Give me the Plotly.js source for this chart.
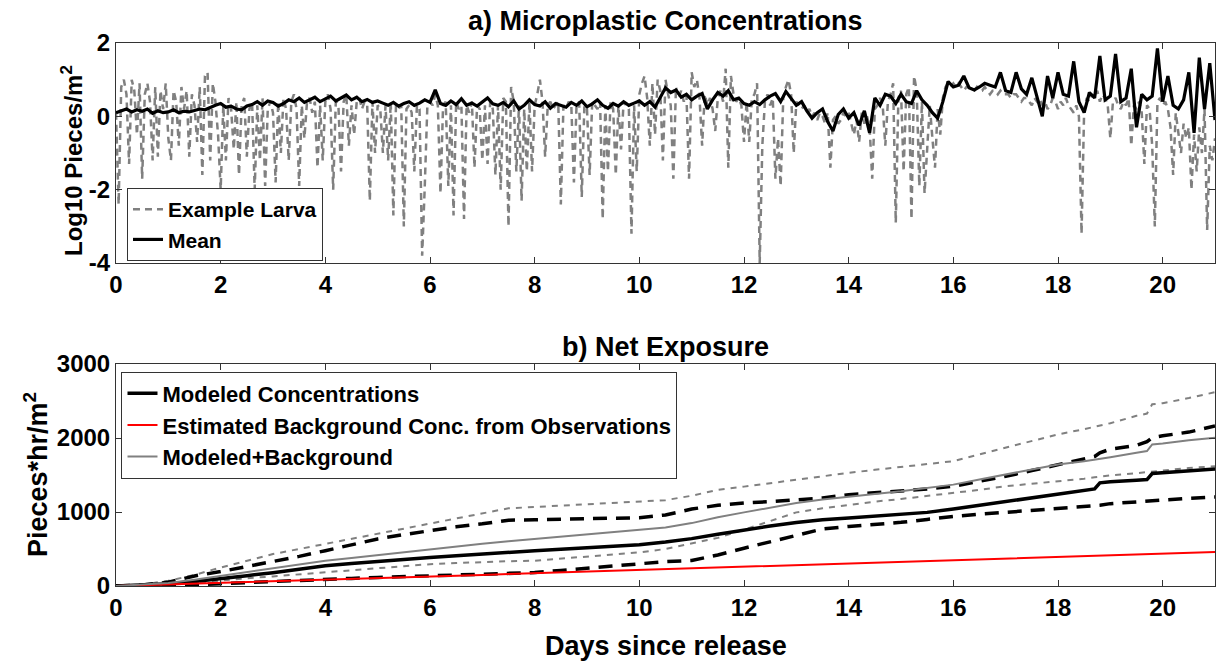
<!DOCTYPE html>
<html>
<head>
<meta charset="utf-8">
<script src="https://cdn.plot.ly/plotly-3.0.1.min.js"></script>
<style>html,body{margin:0;padding:0;background:#fff;}#chart{width:1217px;height:661px;}</style>
</head>
<body>
<div id="chart"></div>
<script>
// ---------- Panel a) : log10 concentration ----------
const larvaStartDay = 0, larvaStepDay = 0.05;
const larvaLog10 = [
 0.1,-2.4,0.8,1.0,0.6,-1.3,1.0,0.7,-0.5,0.9,-1.7,0.6,0.9,0.4,-1.2,0.8,-1.1,0.7,0.2,0.9,-0.6,
 -1.2,0.7,0.4,-0.8,0.8,0.2,0.7,-1.1,0.6,0.3,-0.7,0.8,-1.6,1.1,1.2,-1.2,0.9,0.4,-0.5,-2.0,
 0.3,-1.2,0.5,0.2,-0.9,0.4,-1.6,0.3,0.5,-1.1,0.2,0.4,-2.0,0.3,-1.2,0.5,-1.9,0.2,0.4,0.1,
 -1.8,0.4,-1.0,0.5,0.2,-1.2,0.4,0.6,0.2,-1.9,0.3,-0.6,0.4,0.5,0.1,0.4,-1.4,0.3,-1.2,0.4,
 0.6,0.2,-2.0,0.4,0.3,-1.5,0.4,0.6,-0.8,0.3,-0.5,0.4,0.5,0.2,0.4,0.3,-2.3,0.4,-1.0,0.3,
 0.2,-1.0,0.3,-1.2,0.4,-2.7,0.3,0.2,0.3,-3.0,0.2,0.3,0.1,-1.5,0.3,0.2,-3.8,-1.9,0.3,0.4,
 0.3,0.6,0.3,-2.1,0.3,0.4,-1.9,0.3,-2.7,0.4,0.2,0.3,-2.8,0.3,0.1,0.4,-1.4,0.3,0.2,-1.2,
 0.3,-1.3,0.4,0.2,-1.6,0.3,-2.0,0.5,0.4,-3.0,0.8,0.4,-1.5,0.3,-2.3,0.2,-1.5,0.4,-1.5,0.3,
 0.6,1.0,0.4,-1.1,0.3,0.4,0.2,0.3,0.4,-2.4,0.3,0.2,0.4,0.3,-1.8,0.3,0.4,-2.2,0.3,0.2,
 -1.6,0.4,0.3,0.2,0.4,-2.8,0.3,-1.5,0.4,0.2,-1.6,0.3,-0.9,0.4,0.3,0.2,-3.2,0.3,-1.5,0.6,
 0.9,1.1,0.5,-0.8,0.9,-0.5,1.0,0.7,-1.2,1.0,0.6,0.3,-1.7,0.8,0.5,0.7,0.4,0.6,-1.7,1.2,
 0.8,1.0,0.5,-0.8,0.6,0.3,0.5,0.2,-0.4,0.5,0.7,0.4,1.3,-1.4,1.1,0.6,0.4,0.5,0.3,-0.7,
 0.4,-0.7,0.5,0.6,0.9,-4.0,-0.8,0.4,0.6,0.3,0.5,-1.7,-0.6,-1.9,0.5,0.8,1.0,0.6,-1.0,0.4,
 0.3,0.2,0.3,0.1,0.2,0.0,0.1,-0.1,0.1,0.0,-0.2,0.1,-1.4,-0.1,0.0,-0.2,-0.1,0.1,0.0,0.1,
 -0.2,-0.5,-0.1,-0.7,0.1,-0.2,0.0,-0.3,-1.7,0.2,0.3,0.5,0.3,-0.8,0.4,0.6,0.9,-2.9,0.5,0.7,
 -1.5,0.6,0.8,-2.8,1.1,0.7,-1.9,0.4,-2.1,-0.8,0.3,-0.6,-1.4,0.2,-0.5,0.5,0.8,0.9,0.8,0.9,
 0.8,0.9,0.8,0.7,0.8,0.8,0.7,0.7,0.8,0.7,0.7,0.8,0.7,0.6,0.7,0.7,0.6,0.7,0.6,0.6,
 0.6,0.5,0.6,0.6,0.5,0.4,0.5,0.5,0.4,0.3,0.5,0.4,0.5,0.3,0.4,0.2,0.3,0.5,0.4,0.2,
 0.4,0.3,0.5,0.3,0.2,0.1,0.3,0.0,-3.2,0.2,0.5,0.4,0.6,0.5,0.7,0.4,0.6,0.5,0.3,-0.6,
 0.4,0.5,0.3,0.2,0.4,0.3,0.5,-0.8,0.3,0.2,0.4,0.1,-1.3,0.3,0.2,-0.8,-3.0,0.4,0.5,0.3,
 0.4,0.2,-0.3,-1.6,0.1,-0.5,-1.0,-0.2,-0.6,-0.3,-2.0,-0.5,-1.5,-0.3,-1.0,0.2,-3.1,-0.8,-1.2,-0.6
];
const meanStartDay = 0, meanStepDay = 0.1;
const meanLog10 = [
 0.10,0.15,0.20,0.12,0.18,0.14,0.20,0.08,0.15,0.10,
 0.12,0.18,0.10,0.14,0.12,0.16,0.20,0.18,0.25,0.30,
 0.35,0.25,0.28,0.20,0.18,0.28,0.32,0.40,0.30,0.42,
 0.38,0.28,0.35,0.45,0.40,0.50,0.38,0.45,0.52,0.40,
 0.48,0.55,0.42,0.50,0.58,0.45,0.52,0.40,0.46,0.38,
 0.42,0.36,0.30,0.38,0.28,0.35,0.40,0.30,0.36,0.45,
 0.38,0.72,0.35,0.30,0.42,0.32,0.48,0.30,0.36,0.28,
 0.40,0.50,0.34,0.30,0.38,0.26,0.42,0.20,0.30,0.45,
 0.32,0.28,0.40,0.22,0.35,0.30,0.25,0.38,0.30,0.42,
 0.26,0.34,0.45,0.30,0.22,0.35,0.28,0.40,0.30,0.36,
 0.42,0.30,0.40,0.25,0.50,0.78,0.65,0.72,0.52,0.60,
 0.45,0.55,0.62,0.20,0.45,0.65,0.55,0.70,0.45,0.50,
 0.35,0.30,0.40,0.32,0.45,0.55,0.62,0.40,0.68,0.50,
 0.30,0.40,0.15,-0.05,0.10,0.20,-0.15,-0.40,0.05,0.20,
 -0.05,0.10,-0.25,0.15,-0.45,0.50,0.30,0.60,0.55,0.35,
 0.60,0.40,0.35,0.70,0.45,0.30,0.10,-0.05,0.40,0.95,
 0.80,0.85,1.10,0.78,0.72,0.80,0.90,0.85,0.80,1.20,
 0.70,0.65,1.20,0.75,0.60,1.05,0.55,0.00,1.10,0.50,
 1.20,0.60,0.55,1.50,0.40,0.10,0.65,0.50,1.65,0.45,
 0.55,1.70,0.40,0.50,1.30,-0.30,0.60,0.45,0.55,1.85,
 0.40,1.10,0.30,0.20,0.45,1.20,-0.45,1.60,0.20,1.45,
 -0.10
];

// ---------- Panel b) : net exposure ----------
const exposureDays = [0,0.5,1,1.5,2,2.5,3,3.5,4,4.5,5,5.5,6,6.5,7,7.5,8,8.5,9,9.5,10,10.5,11,11.5,12,12.5,13,13.5,14,14.5,15,15.5,16,16.5,17,17.5,18,18.5,18.7,18.8,19,19.5,19.7,19.8,20,20.5,21];
const modeledMean  = [0,10,30,60,105,140,180,230,273,305,335,360,386,410,435,455,477,497,518,540,559,595,640,700,760,810,859,895,918,940,963,995,1040,1090,1144,1195,1248,1290,1312,1394,1410,1430,1438,1520,1530,1558,1583];
const modeledUpper = [0,15,50,136,195,260,330,400,477,555,636,695,750,800,841,890,895,900,905,912,923,960,1040,1090,1122,1140,1160,1190,1235,1258,1280,1310,1348,1410,1483,1560,1642,1720,1750,1800,1850,1900,1950,2004,2030,2080,2162];
const modeledLower = [0,3,8,18,32,48,62,77,91,103,115,125,136,148,160,170,182,210,240,265,295,330,345,420,511,600,690,770,805,830,860,900,941,970,995,1020,1040,1065,1080,1090,1113,1140,1150,1158,1165,1185,1203];
const background   = [0,10,21,32,43,54,65,75,86,97,108,118,129,140,150,161,172,183,194,205,216,226,237,248,259,270,280,291,302,313,323,334,345,356,367,378,389,399,404,406,410,421,425,427,432,443,460];
const combinedMean  = [0,15,40,85,136,190,240,290,341,380,420,460,500,535,570,605,636,665,695,728,759,790,850,930,995,1060,1122,1170,1212,1245,1280,1320,1370,1440,1506,1575,1642,1685,1705,1712,1740,1800,1823,1913,1925,1970,2004];
const combinedUpper = [0,20,70,150,250,340,432,500,568,635,705,775,841,910,977,1050,1068,1085,1100,1118,1136,1160,1220,1300,1343,1390,1440,1490,1529,1570,1610,1650,1687,1780,1870,1960,2049,2120,2150,2162,2200,2300,2330,2456,2470,2540,2619];
const combinedLower = [0,5,15,40,77,105,130,155,182,210,240,268,295,310,325,335,341,370,398,425,455,500,580,650,760,880,995,1050,1099,1140,1176,1215,1258,1300,1348,1380,1415,1450,1470,1480,1495,1525,1540,1551,1565,1595,1619];

const xTicks = [0,2,4,6,8,10,12,14,16,18,20];
const yTicksA = [-4,-2,0,2];
const yTickLabelsA = ['-4','-2','0','2'];
const yTicksB = [0,1000,2000,3000];

const larvaDays = larvaLog10.map((_, i) => +(larvaStartDay + i * larvaStepDay).toFixed(2));
const meanDays = meanLog10.map((_, i) => +(meanStartDay + i * meanStepDay).toFixed(2));

const FONT = 'Arial, "Liberation Sans", sans-serif';
const GRAY = '#808080';

const traces = [
  {x: larvaDays, y: larvaLog10, xaxis: 'x', yaxis: 'y', mode: 'lines', name: 'Example Larva',
   line: {color: GRAY, width: 2.5, dash: '7px,5px'}, legend: 'legend'},
  {x: meanDays, y: meanLog10, xaxis: 'x', yaxis: 'y', mode: 'lines', name: 'Mean',
   line: {color: '#000', width: 3.2}, legend: 'legend'},

  {x: exposureDays, y: combinedUpper, xaxis: 'x2', yaxis: 'y2', mode: 'lines', showlegend: false,
   line: {color: GRAY, width: 2, dash: '6px,6px'}},
  {x: exposureDays, y: combinedLower, xaxis: 'x2', yaxis: 'y2', mode: 'lines', showlegend: false,
   line: {color: GRAY, width: 2, dash: '6px,6px'}},
  {x: exposureDays, y: modeledUpper, xaxis: 'x2', yaxis: 'y2', mode: 'lines', showlegend: false,
   line: {color: '#000', width: 3.5, dash: '14px,9px'}},
  {x: exposureDays, y: modeledLower, xaxis: 'x2', yaxis: 'y2', mode: 'lines', showlegend: false,
   line: {color: '#000', width: 3.5, dash: '14px,9px'}},
  {x: exposureDays, y: modeledMean, xaxis: 'x2', yaxis: 'y2', mode: 'lines', name: 'Modeled Concentrations',
   line: {color: '#000', width: 3.5}, legend: 'legend2'},
  {x: exposureDays, y: background, xaxis: 'x2', yaxis: 'y2', mode: 'lines', name: 'Estimated Background Conc. from Observations',
   line: {color: '#ff0000', width: 2}, legend: 'legend2'},
  {x: exposureDays, y: combinedMean, xaxis: 'x2', yaxis: 'y2', mode: 'lines', name: 'Modeled+Background',
   line: {color: GRAY, width: 2}, legend: 'legend2'}
];

const tickFont = {family: FONT, size: 24, color: '#000', weight: 'bold'};
const axBase = {
  showline: true, linecolor: '#333', linewidth: 1, mirror: 'ticks', ticks: 'inside', ticklen: 6,
  tickcolor: '#333', showgrid: false, zeroline: false, tickfont: tickFont
};

const layout = {
  width: 1217, height: 661,
  margin: {l: 116, r: 2, t: 43, b: 75},
  paper_bgcolor: '#fff', plot_bgcolor: '#fff',
  font: {family: FONT, color: '#000'},
  xaxis: Object.assign({}, axBase, {domain: [0, 1], anchor: 'y', range: [0, 21], tickvals: xTicks}),
  yaxis: Object.assign({}, axBase, {domain: [0.5948, 1], anchor: 'x', range: [-4, 2], tickvals: yTicksA, ticktext: yTickLabelsA}),
  xaxis2: Object.assign({}, axBase, {domain: [0, 1], anchor: 'y2', range: [0, 21], tickvals: xTicks}),
  yaxis2: Object.assign({}, axBase, {domain: [0, 0.4088], anchor: 'x2', range: [0, 3000], tickvals: yTicksB}),
  legend: {x: 0.01, y: 0.733, xanchor: 'left', yanchor: 'top', xref: 'paper', yref: 'paper',
    bgcolor: '#fff', bordercolor: '#333', borderwidth: 1,
    font: {family: FONT, size: 21, color: '#000', weight: 'bold'}, tracegroupgap: 0},
  legend2: {x: 0.005, y: 0.395, xanchor: 'left', yanchor: 'top', xref: 'paper', yref: 'paper',
    bgcolor: '#fff', bordercolor: '#333', borderwidth: 1,
    font: {family: FONT, size: 22, color: '#000', weight: 'bold'}, tracegroupgap: 0},
  annotations: [
    {text: 'a) Microplastic Concentrations', xref: 'paper', yref: 'paper', x: 0.5, y: 1, yshift: 22,
     xanchor: 'center', yanchor: 'middle', showarrow: false,
     font: {family: FONT, size: 27, color: '#000', weight: 'bold'}},
    {text: 'b) Net Exposure', xref: 'paper', yref: 'paper', x: 0.5, y: 0.4088, yshift: 17,
     xanchor: 'center', yanchor: 'middle', showarrow: false,
     font: {family: FONT, size: 27, color: '#000', weight: 'bold'}},
    {text: 'Log10 Pieces/m<sup>2</sup>', xref: 'paper', yref: 'paper', x: 0, y: 0.7974, xshift: -44, yshift: -8,
     xanchor: 'center', yanchor: 'middle', textangle: -90, showarrow: false,
     font: {family: FONT, size: 24, color: '#000', weight: 'bold'}},
    {text: 'Pieces*hr/m<sup>2</sup>', xref: 'paper', yref: 'paper', x: 0, y: 0.2044, xshift: -80,
     xanchor: 'center', yanchor: 'middle', textangle: -90, showarrow: false,
     font: {family: FONT, size: 27, color: '#000', weight: 'bold'}},
    {text: 'Days since release', xref: 'paper', yref: 'paper', x: 0.5, y: 0, yshift: -60,
     xanchor: 'center', yanchor: 'middle', showarrow: false,
     font: {family: FONT, size: 27, color: '#000', weight: 'bold'}}
  ]
};

Plotly.newPlot('chart', traces, layout, {displayModeBar: false, staticPlot: true});
</script>
</body>
</html>
